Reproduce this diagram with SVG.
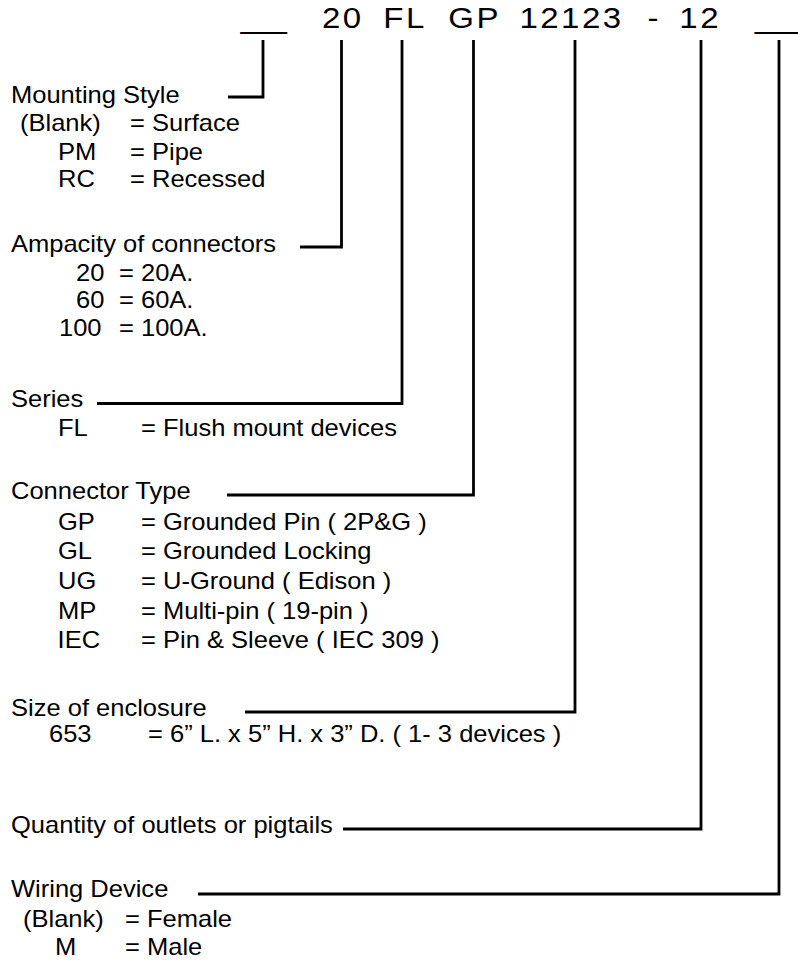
<svg xmlns="http://www.w3.org/2000/svg" width="798" height="962" viewBox="0 0 798 962">
<style>
  .hdr { font-family: "Liberation Sans", Arial, sans-serif; font-size: 30px; letter-spacing: 2.27px; fill: #000; }
  .us { font-family: "Liberation Sans", Arial, sans-serif; font-size: 28.6px; fill: #000; }
  .t { font-family: "Liberation Sans", Arial, sans-serif; font-size: 23.2px; fill: #000; }
  .conn { fill: none; stroke: #000; stroke-width: 2.8; stroke-linejoin: miter; }
</style>
<rect width="798" height="962" fill="#fff"/>

<g id="connectors">
  <path class="conn" d="M263,40 V97 H228"/>
  <path class="conn" d="M341.5,40 V247 H300"/>
  <path class="conn" d="M402,40 V403.5 H97"/>
  <path class="conn" d="M473.5,40 V495 H227"/>
  <path class="conn" d="M575,40 V712 H245"/>
  <path class="conn" d="M701,40 V829 H343"/>
  <path class="conn" d="M779,40 V894 H198"/>
</g>

<g id="mounting-style">
  <g transform="scale(1.1 1)">
    <text class="us" x="218.82" y="28" textLength="41.8" lengthAdjust="spacingAndGlyphs">__</text>
    <text class="t" x="10" y="103">Mounting Style</text>
    <text class="t" x="18.18" y="131">(Blank)</text><text class="t" x="118.18" y="131">= Surface</text>
    <text class="t" x="52.73" y="160">PM</text><text class="t" x="118.18" y="160">= Pipe</text>
    <text class="t" x="52.73" y="187">RC</text><text class="t" x="118.18" y="187">= Recessed</text>
  </g>
</g>

<g id="ampacity">
  <g transform="scale(1.1 1)">
    <text class="hdr" x="292.7" y="28">20</text>
    <text class="t" x="10" y="252">Ampacity of connectors</text>
    <text class="t" x="69.09" y="281">20</text><text class="t" x="108.18" y="281">= 20A.</text>
    <text class="t" x="69.09" y="308">60</text><text class="t" x="108.18" y="308">= 60A.</text>
    <text class="t" x="53.64" y="336">100</text><text class="t" x="108.18" y="336">= 100A.</text>
  </g>
</g>

<g id="series">
  <g transform="scale(1.1 1)">
    <text class="hdr" x="348.5" y="28">FL</text>
    <text class="t" x="10" y="407">Series</text>
    <text class="t" x="52.73" y="436">FL</text><text class="t" x="128.18" y="436">= Flush mount devices</text>
  </g>
</g>

<g id="connector-type">
  <g transform="scale(1.1 1)">
    <text class="hdr" x="407.6" y="28">GP</text>
    <text class="t" x="10" y="499">Connector Type</text>
    <text class="t" x="52.73" y="530">GP</text><text class="t" x="128.18" y="530">= Grounded Pin ( 2P&amp;G )</text>
    <text class="t" x="52.73" y="559">GL</text><text class="t" x="128.18" y="559">= Grounded Locking</text>
    <text class="t" x="52.73" y="589">UG</text><text class="t" x="128.18" y="589">= U-Ground ( Edison )</text>
    <text class="t" x="52.73" y="619">MP</text><text class="t" x="128.18" y="619">= Multi-pin ( 19-pin )</text>
    <text class="t" x="52.36" y="648">IEC</text><text class="t" x="128.18" y="648">= Pin &amp; Sleeve ( IEC 309 )</text>
  </g>
</g>

<g id="enclosure-size">
  <g transform="scale(1.1 1)">
    <text class="hdr" x="472.2" y="28">12123</text>
    <text class="t" x="10" y="716">Size of enclosure</text>
    <text class="t" x="44.55" y="742">653</text><text class="t" x="134.55" y="742">= 6” L. x 5” H. x 3” D. ( 1- 3 devices )</text>
  </g>
</g>

<g id="quantity">
  <g transform="scale(1.1 1)">
    <text class="hdr" x="588.7" y="28">-</text>
    <text class="hdr" x="617.6" y="28">12</text>
    <text class="t" x="10" y="833">Quantity of outlets or pigtails</text>
  </g>
</g>

<g id="wiring-device">
  <g transform="scale(1.1 1)">
    <text class="us" x="686.36" y="28" textLength="41.8" lengthAdjust="spacingAndGlyphs">__</text>
    <text class="t" x="10" y="897">Wiring Device</text>
    <text class="t" x="20.9" y="927">(Blank)</text><text class="t" x="113.64" y="927">= Female</text>
    <text class="t" x="50" y="955">M</text><text class="t" x="113.64" y="955">= Male</text>
  </g>
</g>
</svg>
